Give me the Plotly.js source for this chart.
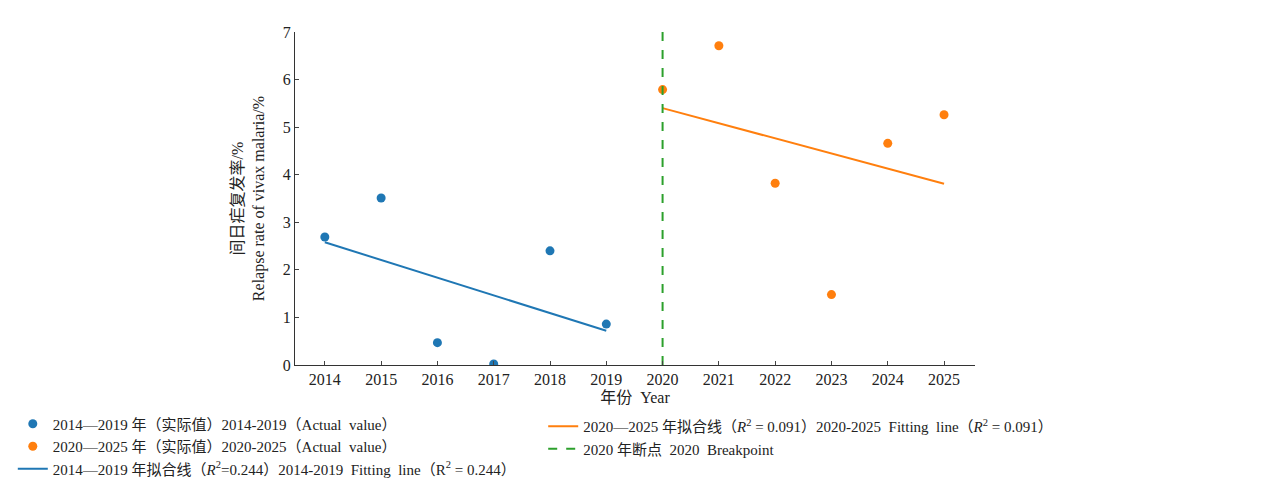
<!DOCTYPE html>
<html><head><meta charset="utf-8">
<script src="https://cdn.plot.ly/plotly-3.0.1.min.js"></script>
<style>body{margin:0}</style></head>
<body><div id="plot" style="width:1268px;height:497px"></div>
<script>
// values
let yearsA = [2014, 2015, 2016, 2017, 2018, 2019];
let rateA = [2.69, 3.51, 0.47, 0.02, 2.40, 0.86];
let yearsB = [2020, 2021, 2022, 2023, 2024, 2025];
let rateB = [5.79, 6.71, 3.82, 1.48, 4.66, 5.26];
let fitA = [2.58, 0.72];
let fitB = [5.40, 3.81];
let breakYear = 2020;
let breakY = [0, 7];

let font = 'Liberation Serif, Noto Sans CJK SC, serif';
let blue = '#1f77b4', orange = '#ff7f0e', green = '#2ca02c';

let data = [
  {x: yearsA, y: rateA, mode: 'markers', type: 'scatter', marker: {color: blue, size: 9},
   name: '2014—2019 年（实际值）2014-2019（Actual  value）', legend: 'legend'},
  {x: yearsB, y: rateB, mode: 'markers', type: 'scatter', marker: {color: orange, size: 9},
   name: '2020—2025 年（实际值）2020-2025（Actual  value）', legend: 'legend'},
  {x: [yearsA[0], yearsA[5]], y: fitA, mode: 'lines', type: 'scatter', line: {color: blue, width: 2},
   name: '2014—2019 年拟合线（<i>R</i><sup>2</sup>=0.244）2014-2019  Fitting  line（R<sup>2</sup> = 0.244）', legend: 'legend'},
  {x: [yearsB[0], yearsB[5]], y: fitB, mode: 'lines', type: 'scatter', line: {color: orange, width: 2},
   name: '2020—2025 年拟合线（<i>R</i><sup>2</sup> = 0.091）2020-2025  Fitting  line（<i>R</i><sup>2</sup> = 0.091）', legend: 'legend2'},
  {x: [breakYear, breakYear], y: breakY, mode: 'lines', type: 'scatter', line: {color: green, width: 2, dash: 'dash'},
   name: '2020 年断点  2020  Breakpoint', legend: 'legend2'}
];

let layout = {
  width: 1268, height: 497,
  margin: {l: 295, r: 293, t: 32, b: 124},
  paper_bgcolor: 'white', plot_bgcolor: 'white',
  font: {family: font, size: 16, color: '#222'},
  xaxis: {
    range: [2013.47, 2025.55], tickvals: [2014,2015,2016,2017,2018,2019,2020,2021,2022,2023,2024,2025],
    showgrid: false, zeroline: false, showline: true, linecolor: '#333', ticks: 'inside', ticklen: 4,
    title: {text: '年份  Year', font: {size: 16}, standoff: 4}
  },
  yaxis: {
    range: [0, 7], dtick: 1, showgrid: false, zeroline: false, showline: true, linecolor: '#333',
    ticks: 'inside', ticklen: 4,
    title: {text: '间日疟复发率/%<br>Relapse rate of vivax malaria/%', font: {size: 16}, standoff: 14}
  },
  showlegend: true,
  legend: {x: -0.415, y: -0.362, xanchor: 'left', yanchor: 'bottom', bgcolor: 'rgba(0,0,0,0)',
           font: {size: 15}, tracegroupgap: 0, itemwidth: 30},
  legend2: {x: 0.365, y: -0.30, xanchor: 'left', yanchor: 'bottom', bgcolor: 'rgba(0,0,0,0)',
            font: {size: 15}, tracegroupgap: 0, itemwidth: 30}
};

Plotly.newPlot('plot', data, layout, {displayModeBar: false});
</script></body></html>
